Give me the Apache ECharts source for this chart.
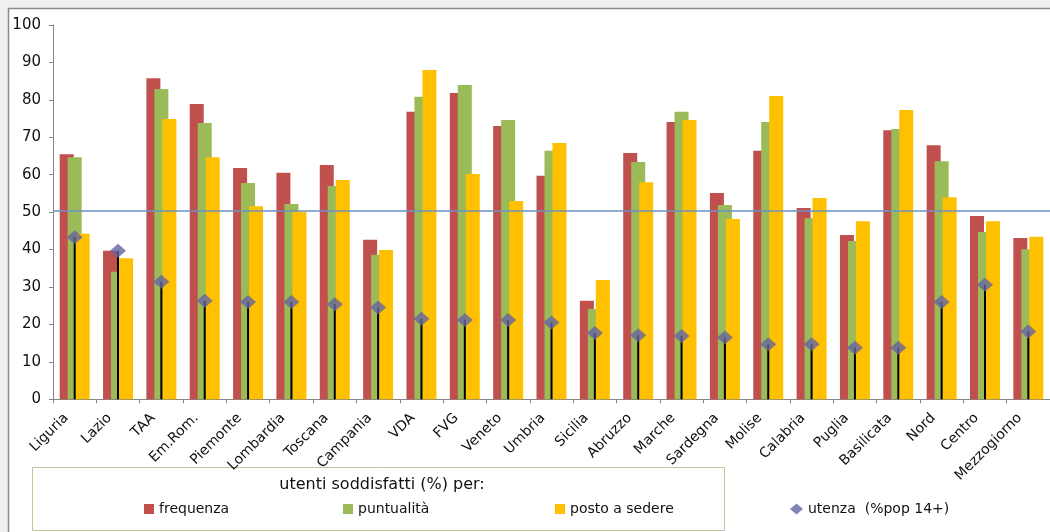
<!DOCTYPE html>
<html>
<head>
<meta charset="utf-8">
<title>utenti soddisfatti</title>
<script src="https://cdn.jsdelivr.net/npm/echarts@6/dist/echarts.min.js"></script>
<style>
  html, body { margin: 0; padding: 0; background: #f0f0f0; }
  #chart { width: 1050px; height: 532px; }
</style>
</head>
<body>
<div id="chart"></div>
<script>
// Regions and macro-areas
const categories = ['Liguria', 'Lazio', 'TAA', 'Em.Rom.', 'Piemonte', 'Lombardia', 'Toscana', 'Campania',
  'VDA', 'FVG', 'Veneto', 'Umbria', 'Sicilia', 'Abruzzo', 'Marche', 'Sardegna', 'Molise', 'Calabria',
  'Puglia', 'Basilicata', 'Nord', 'Centro', 'Mezzogiorno'];

// Satisfied users (%) by aspect
const frequenza = [65.5, 39.7, 85.8, 78.9, 61.8, 60.5, 62.6, 42.6, 76.8, 81.8, 73.0, 59.7, 26.3, 65.8, 74.1,
  55.1, 66.4, 51.1, 43.9, 71.9, 67.9, 49.0, 43.1];
const puntualita = [64.7, 34.1, 82.9, 73.8, 57.8, 52.2, 57.0, 38.6, 80.8, 84.0, 74.6, 66.4, 24.1, 63.4, 76.8,
  51.9, 74.1, 48.4, 42.3, 72.2, 63.6, 44.7, 40.1];
const postoASedere = [44.2, 37.7, 74.9, 64.7, 51.6, 50.1, 58.6, 39.9, 88.0, 60.2, 53.0, 68.5, 31.9, 58.0, 74.6,
  48.2, 81.0, 53.8, 47.6, 77.3, 54.0, 47.6, 43.4];

// Users as % of population aged 14+
const utenza = [43.3, 39.7, 31.4, 26.3, 26.0, 26.0, 25.4, 24.5, 21.5, 21.2, 21.2, 20.5, 17.7, 17.1, 16.9,
  16.5, 14.7, 14.7, 13.8, 13.8, 26.0, 30.6, 18.1];

const yTicks = { min: 0, max: 100, interval: 10 };
const referenceLevel = 50.3;

const seriesNames = ['frequenza', 'puntualità', 'posto a sedere', 'utenza  (%pop 14+)'];
const colors = ['#c0504d', '#9bbb59', '#ffc000', '#6464a0'];

const FONT = 'DejaVu Sans';
const chart = echarts.init(document.getElementById('chart'), null, { renderer: 'canvas' });

function legendAt(name, left, icon, w, h) {
  return {
    data: [{ name: name, icon: icon }],
    left: left, top: 502, padding: 0,
    itemWidth: w, itemHeight: h, itemGap: 0,
    selectedMode: false,
    textStyle: { fontFamily: FONT, fontSize: 14, color: '#111' }
  };
}

chart.setOption({
  backgroundColor: '#f0f0f0',
  animation: false,
  title: {
    text: 'utenti soddisfatti (%) per:',
    left: 377, top: 472, textAlign: 'center',
    textStyle: { fontFamily: FONT, fontSize: 16, fontWeight: 'normal', color: '#111' }
  },
  graphic: [
    // chart frame
    { type: 'rect', z: -10, shape: { x: 8.5, y: 8.5, width: 1100, height: 600 },
      style: { fill: '#ffffff', stroke: '#8a8a8a', lineWidth: 1.5 } },
    // legend box (axis labels may overlap its top edge)
    { type: 'rect', z: -5, shape: { x: 32.5, y: 467.5, width: 692, height: 63 },
      style: { fill: '#ffffff', stroke: '#c9c19c', lineWidth: 1 } }
  ],
  legend: [
    legendAt(seriesNames[0], 144, 'rect', 10, 10),
    legendAt(seriesNames[1], 343, 'rect', 10, 10),
    legendAt(seriesNames[2], 555, 'rect', 10, 10),
    legendAt(seriesNames[3], 790, 'diamond', 13, 11)
  ],
  grid: { left: 53, top: 25, width: 1003, height: 374.3 },
  xAxis: [
    {
      type: 'category', data: categories,
      axisLine: { lineStyle: { color: '#868686', width: 1 } },
      axisTick: { show: true, length: 4, lineStyle: { color: '#868686' } },
      axisLabel: {
        interval: 0, rotate: 45, margin: 8, padding: [0, 12, 0, 0],
        fontFamily: FONT, fontSize: 14, color: '#111'
      }
    },
    {
      type: 'category', data: categories, show: false, gridIndex: 0
    }
  ],
  yAxis: {
    type: 'value', min: yTicks.min, max: yTicks.max, interval: yTicks.interval,
    axisLine: { show: true, lineStyle: { color: '#868686', width: 1 } },
    axisTick: { show: true, length: 4, lineStyle: { color: '#868686' } },
    splitLine: { show: false },
    axisLabel: { margin: 12, fontFamily: FONT, fontSize: 15, color: '#111' }
  },
  series: [
    {
      name: seriesNames[0], type: 'bar', data: frequenza, barWidth: 14, barGap: '-43%',
      itemStyle: { color: colors[0] },
      markLine: {
        silent: true, symbol: 'none', label: { show: false },
        lineStyle: { color: '#6d90c4', width: 1.5, type: 'solid' },
        data: [{ yAxis: referenceLevel }]
      }
    },
    { name: seriesNames[1], type: 'bar', data: puntualita, barWidth: 14, barGap: '-43%', itemStyle: { color: colors[1] } },
    { name: seriesNames[2], type: 'bar', data: postoASedere, barWidth: 14, barGap: '-43%', itemStyle: { color: colors[2] } },
    // drop lines from each marker down to the axis
    { name: 'drop', type: 'bar', xAxisIndex: 1, data: utenza, barWidth: 2, itemStyle: { color: '#000' }, z: 3 },
    {
      name: seriesNames[3], type: 'scatter', xAxisIndex: 1, data: utenza,
      symbol: 'diamond', symbolSize: [16, 14], itemStyle: { color: colors[3] }, z: 4
    }
  ]
});
</script>
</body>
</html>
